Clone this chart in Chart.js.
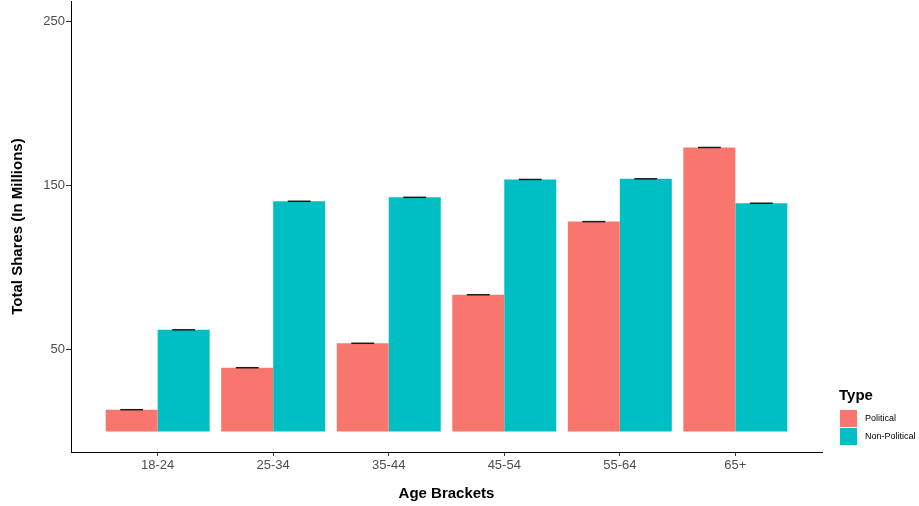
<!DOCTYPE html>
<html lang="en">
<head>
  <meta charset="UTF-8" />
  <title>Total Shares by Age Bracket</title>
  <script src="https://cdn.jsdelivr.net/npm/chart.js"></script>
  <style>
    html, body { margin: 0; padding: 0; background: #fff; }
    #wrap { width: 919px; height: 506px; position: relative; }
  </style>
</head>
<body>
  <div id="wrap"><canvas id="sharesChart"></canvas></div>

  <script>
    // age brackets along the x axis
    const brackets = ['18-24', '25-34', '35-44', '45-54', '55-64', '65+'];
    // total shares, in millions
    const political    = [13.3, 38.9, 53.8, 83.4, 128.0, 173.2];
    const nonPolitical = [62.0, 140.4, 142.8, 153.7, 154.1, 139.2];
    const yTicks = [50, 150, 250];

    const sans = "'Liberation Sans', Arial, sans-serif";

    function points(values) {
      return values.map((v, i) => ({ x: i, y: v }));
    }

    // small black caps on top of each bar, plus axis titles and the legend
    const extras = {
      id: 'extras',
      afterDatasetsDraw(chart) {
        const ctx = chart.ctx;
        ctx.save();
        ctx.strokeStyle = '#1a1a1a';
        ctx.lineWidth = 1.5;
        chart.data.datasets.forEach((ds, di) => {
          chart.getDatasetMeta(di).data.forEach(bar => {
            const half = bar.width * 0.22;
            ctx.beginPath();
            ctx.moveTo(bar.x - half, bar.y);
            ctx.lineTo(bar.x + half, bar.y);
            ctx.stroke();
          });
        });
        ctx.restore();
      },
      afterDraw(chart) {
        const ctx = chart.ctx;
        const area = chart.chartArea;
        ctx.save();
        ctx.fillStyle = '#000';
        ctx.textAlign = 'center';
        ctx.textBaseline = 'middle';

        ctx.font = 'bold 15px ' + sans;
        ctx.fillText('Age Brackets', (area.left + area.right) / 2, 494);

        ctx.save();
        ctx.translate(18, (area.top + area.bottom) / 2);
        ctx.rotate(-Math.PI / 2);
        ctx.font = 'bold 15px ' + sans;
        ctx.fillText('Total Shares (In Millions)', 0, 0);
        ctx.restore();

        // legend
        ctx.textAlign = 'left';
        ctx.font = 'bold 15px ' + sans;
        ctx.fillText('Type', 839, 396);
        ctx.font = '9px ' + sans;
        chart.data.datasets.forEach((ds, i) => {
          const y = 410 + i * 18;
          ctx.fillStyle = ds.backgroundColor;
          ctx.fillRect(840, y, 17, 17);
          ctx.fillStyle = '#000';
          ctx.fillText(ds.label, 865, y + 9);
        });
        ctx.restore();
      }
    };

    new Chart(document.getElementById('sharesChart'), {
      type: 'bar',
      data: {
        datasets: [
          { label: 'Political', data: points(political), backgroundColor: '#F8766D' },
          { label: 'Non-Political', data: points(nonPolitical), backgroundColor: '#00BFC4' }
        ]
      },
      options: {
        responsive: true,
        maintainAspectRatio: false,
        animation: false,
        categoryPercentage: 0.9,
        barPercentage: 1.0,
        layout: { padding: { top: 0, right: 97, bottom: 0, left: 0 } },
        plugins: {
          legend: { display: false },
          tooltip: { enabled: false }
        },
        scales: {
          x: {
            type: 'linear',
            offset: false,
            min: -0.75,
            max: 5.75,
            afterBuildTicks(scale) {
              scale.ticks = brackets.map((b, i) => ({ value: i }));
            },
            afterFit(scale) { scale.height = 54; },
            ticks: {
              autoSkip: false,
              maxRotation: 0,
              padding: 2,
              color: '#4d4d4d',
              font: { family: sans, size: 13 },
              callback: v => brackets[v]
            },
            grid: { offset: false, drawOnChartArea: false, drawTicks: true, tickLength: 4, tickColor: '#333' },
            border: { display: true, color: '#000', width: 1 }
          },
          y: {
            min: -12.5,
            max: 262.5,
            afterBuildTicks(scale) {
              scale.ticks = yTicks.map(v => ({ value: v }));
            },
            afterFit(scale) { scale.width = 71; },
            ticks: {
              padding: 1,
              color: '#4d4d4d',
              // tiny line height so the top label does not push the plot down
              font: { family: sans, size: 13, lineHeight: 0.01 }
            },
            grid: { drawOnChartArea: false, drawTicks: true, tickLength: 5, tickColor: '#333' },
            border: { display: true, color: '#000', width: 1 }
          }
        }
      },
      plugins: [extras]
    });
  </script>
</body>
</html>
